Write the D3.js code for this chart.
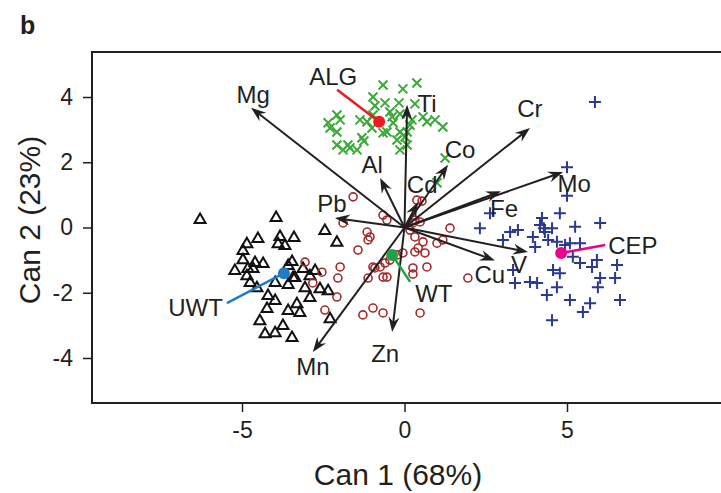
<!DOCTYPE html>
<html>
<head>
<meta charset="utf-8">
<script src="https://cdn.jsdelivr.net/npm/d3@7"></script>
<style>
  body { margin: 0; background: #fff; }
  svg text { font-family: "Liberation Sans", Arial, Helvetica, sans-serif; fill: #231f20; }
</style>
</head>
<body>
<div id="chart"></div>
<script>
// group scores on the two canonical axes
const uwtCan1 = [-6.29,-3.95,-2.45,-2.08,-4.51,-3.83,-3.40,-3.89,-3.68,-4.85,-4.97,-4.97,-5.22,-4.82,-4.66,-4.85,-4.75,-4.54,-3.46,-3.58,-3.12,-2.75,-3.37,-3.98,-3.58,-3.06,-2.60,-2.35,-2.91,-4.20,-3.31,-3.58,-3.22,-4.23,-4.45,-3.74,-3.98,-4.29,-3.46,-2.29,-3.43,-4.35,-4.60,-2.91,-3.98];
const uwtCan2 = [0.26,0.32,-0.08,-0.44,-0.32,-0.26,-0.29,-0.48,-0.54,-0.48,-0.69,-0.97,-1.30,-1.24,-1.24,-1.46,-1.67,-1.83,-1.03,-1.15,-1.24,-1.30,-1.52,-1.67,-1.73,-1.83,-1.86,-1.92,-2.13,-2.07,-2.32,-2.53,-2.59,-2.47,-2.84,-2.99,-3.21,-3.24,-3.36,-2.78,-1.52,-1.09,-1.06,-1.46,-2.22];

const wtCan1 = [-1.58,-0.66,-0.54,-1.15,-1.06,-1.12,-1.43,0.38,0.54,0.26,0.48,0.17,0.32,0.57,0.42,0.63,0.32,-0.05,-0.23,-0.45,-0.60,-0.97,-0.54,0.26,0.26,0.69,1.00,1.18,1.40,1.95,-1.98,-2.05,-2.54,-3.06,-2.82,-2.08,-2.45,-1.28,-0.97,-0.66,0.48,-1.12,-0.91,-0.75,-0.66,0.32,-1.89];
const wtCan2 = [0.94,0.38,0.23,-0.14,-0.29,-0.38,-0.69,0.84,0.81,0.14,0.17,-0.08,-0.29,-0.44,-0.63,-0.78,-0.75,-0.78,-0.84,-1.00,-1.09,-1.21,-1.52,-1.24,-1.43,-1.21,-0.48,-0.38,-0.02,-1.55,-1.21,-1.55,-1.37,-1.06,-1.70,-2.13,-2.53,-2.68,-2.47,-2.62,-2.62,-1.55,-1.24,-1.21,-1.52,0.23,0.14];

const algCan1 = [-0.66,-0.05,0.38,-0.97,-0.60,-0.17,0.32,-0.91,-2.35,-2.08,-1.98,-1.37,-1.15,-0.45,-0.14,-0.35,0.57,0.94,1.18,0.69,-2.08,-1.00,-0.54,-0.14,-1.31,-1.25,-0.23,-2.08,-1.74,-1.89,-1.46,-0.14,0.08,1.25,-2.29,-1.68,-0.66,0.02,1.00,0.08,0.23,-0.38,-0.97,0.17];
const algCan2 = [4.37,4.25,4.43,4.00,3.82,3.82,3.79,3.73,3.21,3.45,3.30,3.30,3.24,3.54,3.48,3.21,3.39,3.30,3.08,3.24,2.93,3.05,2.93,2.93,2.75,2.65,2.68,2.53,2.53,2.38,2.38,2.38,2.53,2.13,3.05,2.44,2.90,2.78,1.37,2.93,3.30,3.39,3.45,3.14];

const cepCan1 = [5.86,5.00,5.00,2.63,2.32,3.03,3.25,3.49,3.95,4.02,4.23,4.17,4.29,4.54,4.78,4.42,4.69,4.94,5.25,6.02,5.09,5.40,5.18,5.40,5.77,5.92,6.02,5.95,6.54,6.48,6.63,4.57,4.78,4.69,4.38,3.86,4.08,3.40,5.09,5.71,5.49,4.54,3.34,4.32];
const cepCan2 = [3.85,1.85,0.97,0.44,-0.02,-0.38,-0.14,-0.08,-0.29,-0.60,0.29,0.08,-0.02,-0.02,0.44,-0.38,-0.44,-0.54,0.02,0.14,-0.48,-0.48,-0.90,-1.09,-1.21,-1.00,-1.55,-1.83,-1.15,-1.55,-2.22,-1.30,-1.40,-1.83,-2.07,-1.67,-1.70,-1.70,-2.22,-2.32,-2.59,-2.84,-1.30,-0.14];

// group means
const groupNames = ["UWT", "WT", "ALG", "CEP"];
const centroidCan1 = [-3.71, -0.38, -0.78, 4.82];
const centroidCan2 = [-1.40, -0.84, 3.24, -0.78];

// element structure vectors
const elements = ["Mg", "Ti", "Al", "Pb", "Cd", "Co", "Cr", "Mo", "Fe", "V", "Cu", "Zn", "Mn"];
const elemCan1 = [-4.72, 0.08, -0.75, -2.14, 0.42, 1.34, 3.86, 4.88, 2.97, 3.80, 2.78, -0.38, -2.82];
const elemCan2 = [3.67, 3.76, 1.52, 0.29, 0.78, 1.92, 3.05, 1.70, 1.11, -0.75, -1.01, -3.20, -3.82];

const xTicks = [-5, 0, 5];
const yTicks = [-4, -2, 0, 2, 4];

// ---- layout ----
const W = 721, H = 493;
const plot = { left: 92, top: 52, right: 723, bottom: 403 };

const x = d3.scaleLinear().domain([-9.615, 9.80]).range([plot.left, plot.right]);
const y = d3.scaleLinear().domain([-5.38, 5.38]).range([plot.bottom, plot.top]);

const svg = d3.select("#chart").append("svg")
  .attr("width", W).attr("height", H);

// frame
svg.append("rect")
  .attr("x", plot.left).attr("y", plot.top)
  .attr("width", plot.right - plot.left).attr("height", plot.bottom - plot.top)
  .attr("fill", "none").attr("stroke", "#231f20").attr("stroke-width", 2);

// axes (plain hyphen for negatives, like the original)
const fmt = d => String(d);
const xAxis = svg.append("g")
  .attr("transform", `translate(0,${plot.bottom})`)
  .call(d3.axisBottom(x).tickValues(xTicks).tickSize(9).tickPadding(10).tickFormat(fmt));
const yAxis = svg.append("g")
  .attr("transform", `translate(${plot.left},0)`)
  .call(d3.axisLeft(y).tickValues(yTicks).tickSize(9).tickPadding(10).tickFormat(fmt));
[xAxis, yAxis].forEach(a => {
  a.select(".domain").remove();
  a.selectAll(".tick line").attr("stroke", "#231f20").attr("stroke-width", 1.5);
  a.selectAll(".tick text").style("font-size", "23px")
    .style("font-family", "'Liberation Sans', Arial, sans-serif").attr("fill", "#231f20");
});

svg.append("text")
  .attr("x", 398).attr("y", 485)
  .attr("text-anchor", "middle")
  .style("font-size", "30px")
  .text("Can 1 (68%)");

svg.append("text")
  .attr("transform", "translate(40,220) rotate(-90)")
  .attr("text-anchor", "middle")
  .style("font-size", "30px")
  .text("Can 2 (23%)");

svg.append("text")
  .attr("x", 20).attr("y", 34)
  .style("font-size", "25px").style("font-weight", "bold")
  .text("b");

const zip = (a, b) => a.map((v, i) => [v, b[i]]);

// ---- group points ----
const pts = svg.append("g");

pts.selectAll(".uwt").data(zip(uwtCan1, uwtCan2)).enter().append("path")
  .attr("d", "M0,-5.5L5.5,4L-5.5,4Z")
  .attr("transform", d => `translate(${x(d[0])},${y(d[1])})`)
  .attr("fill", "none").attr("stroke", "#111").attr("stroke-width", 2);

pts.selectAll(".wt").data(zip(wtCan1, wtCan2)).enter().append("circle")
  .attr("cx", d => x(d[0])).attr("cy", d => y(d[1])).attr("r", 4)
  .attr("fill", "none").attr("stroke", "#a52a2a").attr("stroke-width", 1.6);

pts.selectAll(".alg").data(zip(algCan1, algCan2)).enter().append("path")
  .attr("d", "M-4.5,-4.5L4.5,4.5M-4.5,4.5L4.5,-4.5")
  .attr("transform", d => `translate(${x(d[0])},${y(d[1])})`)
  .attr("stroke", "#3aa935").attr("stroke-width", 2);

pts.selectAll(".cep").data(zip(cepCan1, cepCan2)).enter().append("path")
  .attr("d", "M-6,0L6,0M0,-6L0,6")
  .attr("transform", d => `translate(${x(d[0])},${y(d[1])})`)
  .attr("stroke", "#2b3990").attr("stroke-width", 2);

// ---- element arrows ----
// label offsets from arrow tip, in pixels (text baseline)
const labelOffset = {
  Mg: [2, -5], Ti: [20, 7], Al: [-8, -5], Pb: [-3, -6], Cd: [4, -9], Co: [12, -7],
  Cr: [0, -11], Mo: [11, 20], Fe: [3, 26], V: [-9, 21], Cu: [-5, 23], Zn: [-7, 30], Mn: [0, 23]
};

const arrows = svg.append("g");
const x0 = x(0), y0 = y(0);
elements.forEach((name, i) => {
  const tx = x(elemCan1[i]), ty = y(elemCan2[i]);
  const ang = Math.atan2(ty - y0, tx - x0);
  const len = Math.hypot(tx - x0, ty - y0);
  const g = arrows.append("g")
    .attr("transform", `translate(${x0},${y0}) rotate(${ang * 180 / Math.PI})`);
  g.append("line")
    .attr("x1", 0).attr("y1", 0).attr("x2", len - 9).attr("y2", 0)
    .attr("stroke", "#231f20").attr("stroke-width", 2);
  g.append("path")
    .attr("d", `M${len},0L${len - 15},-5.5L${len - 10},0L${len - 15},5.5Z`)
    .attr("fill", "#231f20");
  const off = labelOffset[name];
  arrows.append("text")
    .attr("x", tx + off[0]).attr("y", ty + off[1])
    .attr("text-anchor", "middle")
    .style("font-size", "24px")
    .text(name);
});

// ---- group means with leader lines ----
const meanColor = ["#1f7cc4", "#1fa149", "#ec1c24", "#ec008c"];
// leader line end, relative to the mean (pixels), and label anchor relative to that end
const leader = [
  { end: [-57, 30], text: [-4, 13], anchor: "end" },
  { end: [18, 27], text: [5, 20], anchor: "start" },
  { end: [-42, -32], text: [-4, -5], anchor: "middle" },
  { end: [44, -8], text: [3, 9], anchor: "start" }
];

const means = svg.append("g");
groupNames.forEach((name, i) => {
  const cx = x(centroidCan1[i]), cy = y(centroidCan2[i]);
  const L = leader[i];
  const ex = cx + L.end[0], ey = cy + L.end[1];
  means.append("line")
    .attr("x1", cx).attr("y1", cy).attr("x2", ex).attr("y2", ey)
    .attr("stroke", meanColor[i]).attr("stroke-width", 2.5);
  means.append("circle")
    .attr("cx", cx).attr("cy", cy).attr("r", 6)
    .attr("fill", meanColor[i]);
  means.append("text")
    .attr("x", ex + L.text[0]).attr("y", ey + L.text[1])
    .attr("text-anchor", L.anchor)
    .style("font-size", "24px")
    .text(name);
});
</script>
</body>
</html>
